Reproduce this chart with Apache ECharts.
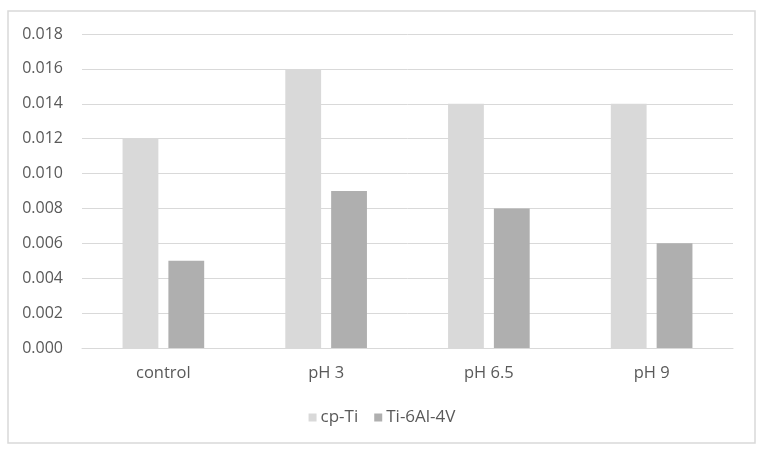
<!DOCTYPE html>
<html><head><meta charset="utf-8">
<script src="https://cdn.jsdelivr.net/npm/echarts@6/dist/echarts.min.js"></script>
<style>html,body{margin:0;padding:0;background:#fff}#c{width:764px;height:453px}</style>
</head><body><div id="c"></div>
<script>
var categories = ['control', 'pH 3', 'pH 6.5', 'pH 9'];
var cpTi = [0.012, 0.016, 0.014, 0.014];
var ti64 = [0.005, 0.009, 0.008, 0.006];
var seriesNames = ['cp-Ti', 'Ti-6Al-4V'];

var chart = echarts.init(document.getElementById('c'), null, {renderer: 'canvas'});
var font = '"Open Sans", "Noto Sans", sans-serif';
chart.setOption({
  animation: false,
  backgroundColor: '#fff',
  graphic: [{type: 'rect', shape: {x: 8, y: 11, width: 747, height: 432},
    style: {fill: 'none', stroke: '#d9d9d9', lineWidth: 1.5}}],
  grid: {left: 82, right: 31, top: 34, bottom: 105, containLabel: false},
  legend: {
    top: 404, left: 'center', itemWidth: 8, itemHeight: 8, itemGap: 16, icon: 'rect',
    textStyle: {color: '#595959', fontSize: 17, fontFamily: font, padding: [0, 0, 0, -1]},
    data: seriesNames
  },
  xAxis: {
    type: 'category', data: categories,
    axisLine: {lineStyle: {color: '#d9d9d9', width: 1}},
    axisTick: {show: false},
    axisLabel: {color: '#595959', fontSize: 16.5, fontFamily: font, margin: 17}
  },
  yAxis: {
    type: 'value', min: 0, max: 0.018, interval: 0.002,
    axisLine: {show: false}, axisTick: {show: false},
    splitLine: {lineStyle: {color: '#d9d9d9', width: 1}},
    axisLabel: {color: '#595959', fontSize: 16, fontFamily: font, margin: 19,
      formatter: function (v) { return v.toFixed(3); }}
  },
  series: [
    {name: seriesNames[0], type: 'bar', data: cpTi, barWidth: '22%', barGap: '28%',
      itemStyle: {color: '#d9d9d9'}},
    {name: seriesNames[1], type: 'bar', data: ti64, barWidth: '22%',
      itemStyle: {color: '#afafaf'}}
  ]
});
</script></body></html>
